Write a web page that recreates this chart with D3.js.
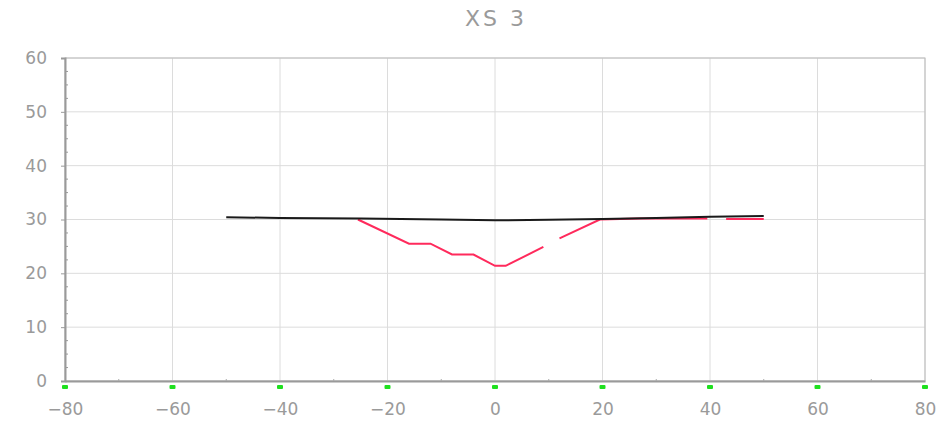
<!DOCTYPE html>
<html><head><meta charset="utf-8">
<script src="https://cdn.jsdelivr.net/npm/d3@7"></script>
<style>body{margin:0;background:#fff;}svg{display:block;font-family:"DejaVu Sans",sans-serif;}</style>
</head><body><svg id="c" width="937" height="427"></svg>
<script>
const title = "XS 3";
const xTicks = [-80,-60,-40,-20,0,20,40,60,80];
const yTicks = [0,10,20,30,40,50,60];
// black line (water surface / top)
const blackX = [-50,-40,-25,-10,0,10,20,30,40,50];
const blackY = [30.4,30.3,30.2,30.0,29.85,29.95,30.1,30.3,30.5,30.65];
// red line (section), null marks a gap
const redX = [-25.5,-16,-12,-8,-4,0,2,9,null,12,19.5,27,39.5,null,43,50];
const redY = [30.0,25.5,25.5,23.5,23.5,21.4,21.4,24.9,null,26.5,30.0,30.2,30.2,null,30.1,30.1];

const svg = d3.select("#c");
const m = {l:65, r:925, t:58, b:381};
const x = d3.scaleLinear().domain([-80,80]).range([m.l,m.r]);
const y = d3.scaleLinear().domain([0,60]).range([m.b,m.t]);
const grey = "#9a9a9a";
const fmt = d => d < 0 ? "\u2212" + Math.abs(d) : String(d);

// grid
svg.append("g").selectAll("line").data(xTicks).join("line")
  .attr("x1",d=>x(d)).attr("x2",d=>x(d)).attr("y1",m.t).attr("y2",m.b)
  .attr("stroke","#dcdcdc").attr("stroke-width",1);
svg.append("g").selectAll("line").data(yTicks).join("line")
  .attr("x1",m.l).attr("x2",m.r).attr("y1",d=>y(d)).attr("y2",d=>y(d))
  .attr("stroke","#dcdcdc").attr("stroke-width",1);

// frame
svg.append("rect").attr("x",m.l).attr("y",m.t).attr("width",m.r-m.l).attr("height",m.b-m.t)
  .attr("fill","none").attr("stroke","#bbb").attr("stroke-width",1);

// axes
const yAxis = svg.append("g").attr("transform",`translate(${m.l},0)`)
  .call(d3.axisLeft(y).tickValues(yTicks).tickSize(4).tickFormat(fmt).tickPadding(14));
yAxis.select(".domain").attr("stroke",grey).attr("stroke-width",2);
yAxis.selectAll(".tick line").attr("stroke",grey);
yAxis.selectAll("text").attr("fill",grey).attr("font-size",17).attr("font-family","DejaVu Sans");
// y minor ticks (inside)
const yMinor = d3.range(0,60.01,2.5).filter(v=>v%10!==0);
svg.append("g").selectAll("line").data(yMinor).join("line")
  .attr("x1",m.l).attr("x2",m.l+3).attr("y1",d=>y(d)).attr("y2",d=>y(d)).attr("stroke",grey);

const xAxis = svg.append("g").attr("transform",`translate(0,${m.b})`)
  .call(d3.axisBottom(x).tickValues(xTicks).tickSize(0).tickFormat(fmt).tickPadding(22));
xAxis.select(".domain").attr("stroke",grey).attr("stroke-width",2);
xAxis.selectAll("text").attr("fill",grey).attr("font-size",17).attr("font-family","DejaVu Sans");
// x minor ticks (inside)
const xMinor = d3.range(-70,80,20);
svg.append("g").selectAll("line").data(xMinor).join("line")
  .attr("x1",d=>x(d)).attr("x2",d=>x(d)).attr("y1",m.b).attr("y2",m.b-2).attr("stroke","#aaa");
// green markers below x ticks
svg.append("g").selectAll("rect").data(xTicks).join("rect")
  .attr("x",d=>x(d)-3).attr("y",m.b+4).attr("width",6).attr("height",4).attr("rx",1)
  .attr("fill","#1fe01f");

// red line
const redData = redX.map((v,i)=>({x:v,y:redY[i]}));
svg.append("path").datum(redData)
  .attr("d", d3.line().defined(d=>d.x!==null && d.y!==null).x(d=>x(d.x)).y(d=>y(d.y)))
  .attr("fill","none").attr("stroke","#ff2a5c").attr("stroke-width",2);
// black line
const blackData = blackX.map((v,i)=>({x:v,y:blackY[i]}));
svg.append("path").datum(blackData)
  .attr("d", d3.line().x(d=>x(d.x)).y(d=>y(d.y)))
  .attr("fill","none").attr("stroke","#1a1a1a").attr("stroke-width",2);

// title
svg.append("text").attr("x",496).attr("y",26).attr("text-anchor","middle")
  .attr("fill",grey).attr("font-size",22).attr("letter-spacing",3).text(title);
</script></body></html>
